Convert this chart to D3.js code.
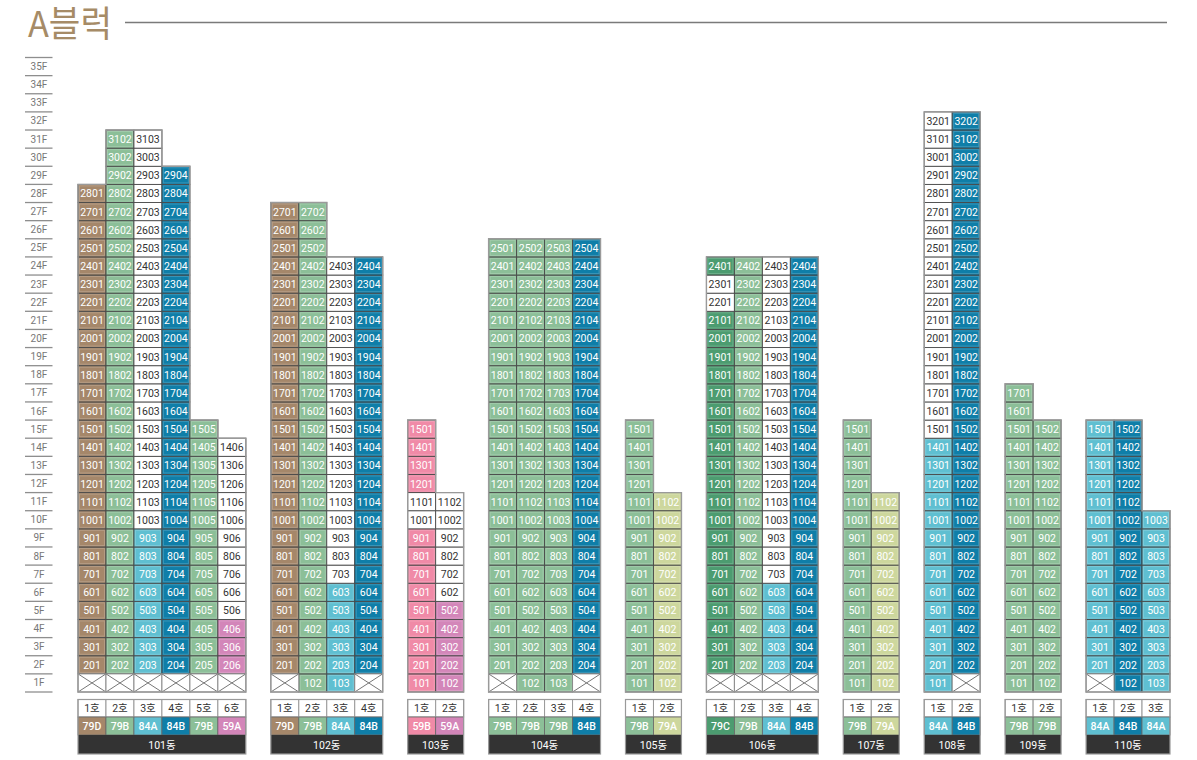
<!DOCTYPE html>
<html><head><meta charset="utf-8">
<script src="https://cdn.jsdelivr.net/npm/d3@7/dist/d3.min.js"></script>
<style>
body{margin:0;background:#fff;}
svg{display:block;}
</style></head>
<body>
<svg id="chart" width="1197" height="760"></svg>
<script>
// ---------- DATA ----------
const title = "A블럭";
const buildings = ["101동","102동","103동","104동","105동","106동","107동","108동","109동","110동"];
const unitTypes = [
  ["79D","79B","84A","84B","79B","59A"],
  ["79D","79B","84A","84B"],
  ["59B","59A"],
  ["79B","79B","79B","84B"],
  ["79B","79A"],
  ["79C","79B","84A","84B"],
  ["79B","79A"],
  ["84A","84B"],
  ["79B","79B"],
  ["84A","84B","84A"]
];
const topFloors = [
  [28,31,31,29,15,14],
  [27,27,24,24],
  [15,11],
  [25,25,25,25],
  [15,11],
  [24,24,24,24],
  [15,11],
  [32,32],
  [17,15],
  [15,15,10]
];
const firstFloors = [
  [2,2,2,2,2,2],
  [2,1,1,2],
  [1,1],
  [2,1,1,2],
  [1,1],
  [2,2,2,2],
  [1,1],
  [1,2],
  [1,1],
  [2,1,1]
];
// [building index, unit index, from floor, to floor] shown as white cells
const whiteRanges = [
  [0,2,10,31],[0,5,5,14],
  [1,2,7,24],
  [2,0,10,11],[2,1,6,11],
  [5,0,22,23],[5,2,7,24],
  [7,0,15,32]
];
const typeNames  = ["79D","79B","84A","84B","59A","59B","79A","79C"];
const typeColors = ["#a5876a","#8cbf98","#5fbfd1","#0f7ea8","#d386b9","#f08aa7","#cdd79d","#4c9c70"];
const floorCount = 35;
const floorLabels = d3.range(1, floorCount+1).map(f => f + "F");

// ---------- LAYOUT ----------
const svg = d3.select("#chart");
const color = d3.scaleOrdinal(typeNames, typeColors);
const gapCells = 25/28;
const totalCells = d3.sum(unitTypes, u => u.length);
const x = d3.scaleLinear().domain([0, totalCells + (buildings.length-1)*gapCells]).range([78, 1170]);
const y = d3.scaleLinear().domain([0, floorCount]).range([692, 57.5]);
const cw = x(1) - x(0);

const offsets = [];
let acc = 0;
unitTypes.forEach((u,i)=>{ offsets.push(acc + i*gapCells); acc += u.length; });

const isWhite = (b,u,f) => whiteRanges.some(r => r[0]===b && r[1]===u && f>=r[2] && f<=r[3]);

// Title
svg.append("text").attr("x",28).attr("y",37)
  .attr("font-family","'Noto Sans CJK KR','Noto Sans',sans-serif")
  .attr("font-size",36).attr("font-weight",400).attr("fill","#a68b66")
  .attr("textLength",84).attr("lengthAdjust","spacingAndGlyphs")
  .text(title);
svg.append("line").attr("x1",125).attr("x2",1167).attr("y1",22.5).attr("y2",22.5)
  .attr("stroke","#7a7a7a").attr("stroke-width",1.6);

// Floor axis
const ax = svg.append("g");
ax.selectAll("line").data(d3.range(0, floorCount+1)).join("line")
  .attr("x1",25).attr("x2",52.5)
  .attr("y1",d=>y(d)).attr("y2",d=>y(d))
  .attr("stroke","#8e8e8e").attr("stroke-width",1.3);
ax.selectAll("text").data(floorLabels).join("text")
  .attr("x",39).attr("y",(d,i)=>(y(i)+y(i+1))/2)
  .attr("text-anchor","middle").attr("dominant-baseline","central")
  .attr("font-family","Roboto,sans-serif").attr("font-size",10).attr("fill","#777")
  .text(d=>d);

// Buildings
const font = "Roboto,'Noto Sans CJK KR',sans-serif";
buildings.forEach((name,b)=>{
  const g = svg.append("g");
  const units = unitTypes[b];
  const cells = [];
  const empties = [];
  units.forEach((t,u)=>{
    const x0 = x(offsets[b]+u);
    if (firstFloors[b][u] > 1) empties.push({x0});
    for (let f=firstFloors[b][u]; f<=topFloors[b][u]; f++){
      const w = isWhite(b,u,f);
      cells.push({x0, f, fill: w ? "#ffffff" : color(t), white:w,
        label: `${f}${String(u+1).padStart(2,"0")}`});
    }
  });
  g.selectAll("rect.c").data(cells).join("rect").attr("class","c")
    .attr("x",d=>d.x0).attr("y",d=>y(d.f)).attr("width",cw)
    .attr("height",d=>y(d.f-1)-y(d.f))
    .attr("fill",d=>d.fill).attr("stroke","#4a4a4a").attr("stroke-width",0.9);
  // inner highlight for colored cells
  g.selectAll("rect.h").data(cells.filter(d=>!d.white)).join("rect").attr("class","h")
    .attr("x",d=>d.x0+1.5).attr("y",d=>y(d.f)+1.5).attr("width",cw-3)
    .attr("height",d=>y(d.f-1)-y(d.f)-3)
    .attr("fill","none").attr("stroke","#ffffff").attr("stroke-opacity",0.18).attr("stroke-width",1);
  g.selectAll("text.c").data(cells).join("text").attr("class","c")
    .attr("x",d=>d.x0+cw/2).attr("y",d=>(y(d.f)+y(d.f-1))/2+0.5)
    .attr("text-anchor","middle").attr("dominant-baseline","central")
    .attr("font-family",font).attr("font-size",10.5)
    .attr("fill",d=>d.white ? "#333" : "#fff")
    .text(d=>d.label);
  // empty 1F cells with X
  const eg = g.selectAll("g.e").data(empties).join("g").attr("class","e");
  eg.append("rect").attr("x",d=>d.x0).attr("y",y(1)).attr("width",cw).attr("height",y(0)-y(1))
    .attr("fill","#fff").attr("stroke","#8a8a8a").attr("stroke-width",1);
  eg.append("line").attr("x1",d=>d.x0).attr("x2",d=>d.x0+cw).attr("y1",y(1)).attr("y2",y(0))
    .attr("stroke","#777").attr("stroke-width",1);
  eg.append("line").attr("x1",d=>d.x0).attr("x2",d=>d.x0+cw).attr("y1",y(0)).attr("y2",y(1))
    .attr("stroke","#777").attr("stroke-width",1);
  // silhouette outline
  const p = d3.path();
  const bx0 = x(offsets[b]);
  p.moveTo(bx0, y(0));
  units.forEach((t,u)=>{
    p.lineTo(x(offsets[b]+u), y(topFloors[b][u]));
    p.lineTo(x(offsets[b]+u+1), y(topFloors[b][u]));
  });
  p.lineTo(x(offsets[b]+units.length), y(0));
  p.closePath();
  g.append("path").attr("d",p.toString()).attr("fill","none")
    .attr("stroke","#9a9a9a").attr("stroke-width",1.4);

  // labels below
  const lg = g.append("g");
  const r1 = 699.5, r2 = 717, r3 = 735, r4 = 754;
  units.forEach((t,u)=>{
    const x0 = x(offsets[b]+u);
    lg.append("rect").attr("x",x0).attr("y",r1).attr("width",cw).attr("height",r2-r1)
      .attr("fill","#fff").attr("stroke","#999").attr("stroke-width",1);
    lg.append("text").attr("x",x0+cw/2).attr("y",(r1+r2)/2+0.5)
      .attr("text-anchor","middle").attr("dominant-baseline","central")
      .attr("font-family",font).attr("font-size",10.5).attr("fill","#333").text(`${u+1}호`);
    lg.append("rect").attr("x",x0).attr("y",r2).attr("width",cw).attr("height",r3-r2)
      .attr("fill",color(t)).attr("stroke","#666").attr("stroke-width",0.8);
    lg.append("text").attr("x",x0+cw/2).attr("y",(r2+r3)/2+0.5)
      .attr("text-anchor","middle").attr("dominant-baseline","central")
      .attr("font-family",font).attr("font-size",10.5).attr("font-weight",500).attr("fill","#fff").text(t);
  });
  const bw = cw*units.length;
  lg.append("rect").attr("x",bx0).attr("y",r3).attr("width",bw).attr("height",r4-r3)
    .attr("fill","#333");
  lg.append("rect").attr("x",bx0).attr("y",r1).attr("width",bw).attr("height",r4-r1)
    .attr("fill","none").attr("stroke","#9a9a9a").attr("stroke-width",1.2);
  lg.append("text").attr("x",bx0+bw/2).attr("y",(r3+r4)/2+0.5)
    .attr("text-anchor","middle").attr("dominant-baseline","central")
    .attr("font-family",font).attr("font-size",10.5).attr("fill","#fff").text(name);
});
</script>
</body></html>
